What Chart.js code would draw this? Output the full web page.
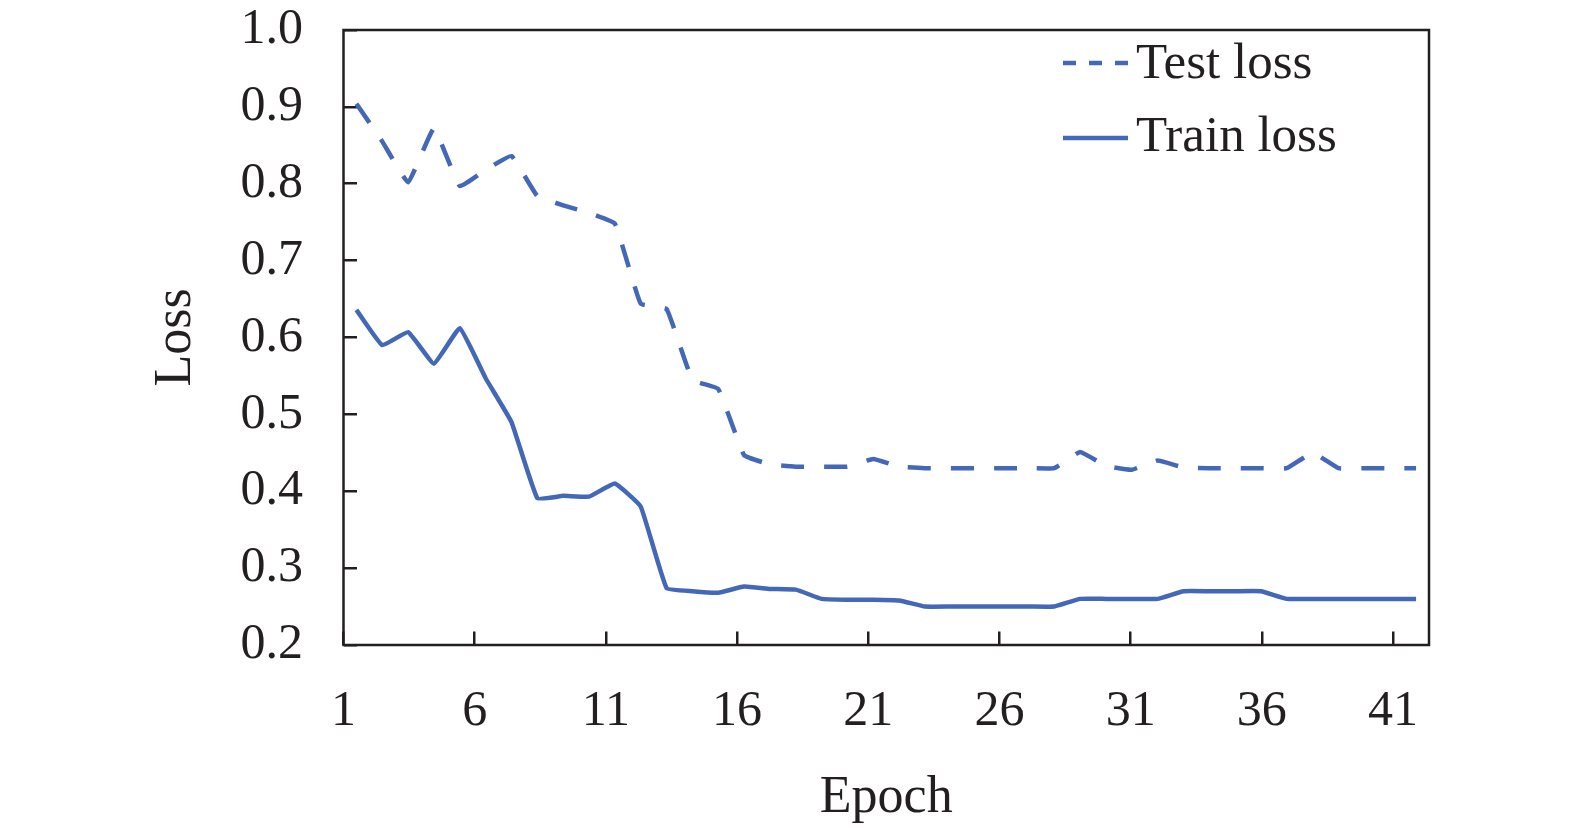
<!DOCTYPE html>
<html>
<head>
<meta charset="utf-8">
<title>Loss</title>
<script src="https://cdn.jsdelivr.net/npm/chart.js@4.4.1/dist/chart.umd.min.js"></script>
<style>
    html, body { margin: 0; padding: 0; background: #fff; }
    #wrap { width: 1575px; height: 828px; }
</style>
</head>
<body>
<div id="wrap"><canvas id="chart" width="1575" height="828"></canvas></div>
<script>
// Data
const epochs = [1, 2, 3, 4, 5, 6, 7, 8, 9, 10, 11, 12, 13, 14, 15, 16, 17, 18, 19, 20, 21,
                22, 23, 24, 25, 26, 27, 28, 29, 30, 31, 32, 33, 34, 35, 36, 37, 38, 39, 40, 41, 42];

const testLoss = [0.904, 0.855, 0.802, 0.872, 0.797, 0.818, 0.836, 0.784, 0.772, 0.762, 0.748,
                  0.644, 0.637, 0.545, 0.533, 0.447, 0.435, 0.432, 0.432, 0.432, 0.442,
                  0.432, 0.430, 0.430, 0.430, 0.430, 0.430, 0.430, 0.451, 0.433, 0.428,
                  0.440, 0.431, 0.430, 0.430, 0.430, 0.430, 0.450, 0.430, 0.430, 0.430, 0.430];

const trainLoss = [0.636, 0.590, 0.607, 0.566, 0.612, 0.547, 0.490, 0.391, 0.394, 0.393, 0.410,
                   0.380, 0.274, 0.270, 0.268, 0.276, 0.273, 0.272, 0.260, 0.259, 0.259,
                   0.258, 0.250, 0.250, 0.250, 0.250, 0.250, 0.250, 0.260, 0.260, 0.260,
                   0.260, 0.270, 0.270, 0.270, 0.270, 0.260, 0.260, 0.260, 0.260, 0.260, 0.260];

const epochTicks = [1, 6, 11, 16, 21, 26, 31, 36, 41];
const lossTicks = [0.2, 0.3, 0.4, 0.5, 0.6, 0.7, 0.8, 0.9, 1.0];

const BLUE = '#4468b8';
const INK = '#231f20';
const FONT = '"Liberation Serif", "Times New Roman", serif';

// box round the plot area (top and right edges included)
const frame = {
    id: 'frame',
    afterDatasetsDraw(chart) {
        const a = chart.chartArea;
        const ctx = chart.ctx;
        ctx.save();
        ctx.strokeStyle = INK;
        ctx.lineWidth = 2.5;
        ctx.strokeRect(a.left, a.top, a.right - a.left, a.bottom - a.top);
        ctx.restore();
    }
};

// legend sitting inside the plot, top right
const innerLegend = {
    id: 'innerLegend',
    afterDraw(chart) {
        const ctx = chart.ctx;
        const rows = [
            { ds: chart.data.datasets[0], y: 63, base: 78, dash: [13, 13] },
            { ds: chart.data.datasets[1], y: 138, base: 151, dash: [] }
        ];
        ctx.save();
        rows.forEach(r => {
            ctx.strokeStyle = r.ds.borderColor;
            ctx.lineWidth = r.ds.borderWidth;
            ctx.setLineDash(r.dash);
            ctx.beginPath();
            ctx.moveTo(1063, r.y);
            ctx.lineTo(1128, r.y);
            ctx.stroke();
            ctx.setLineDash([]);
            ctx.fillStyle = INK;
            ctx.font = '51px ' + FONT;
            ctx.textBaseline = 'alphabetic';
            ctx.textAlign = 'left';
            ctx.fillText(r.ds.label, 1136, r.base);
        });
        ctx.restore();
    }
};

// keep the tick padding from pushing the plot area around
const noOverflow = s => {
    s.paddingTop = 0;
    s.paddingBottom = 0;
    s.paddingLeft = 0;
    s.paddingRight = 0;
};

new Chart(document.getElementById('chart'), {
    type: 'line',
    data: {
        labels: epochs,
        datasets: [{
            label: 'Test loss',
            data: testLoss,
            borderColor: BLUE,
            borderWidth: 4.5,
            borderDash: [23, 20],
            pointRadius: 0,
            tension: 0.1,
            fill: false
        }, {
            label: 'Train loss',
            data: trainLoss,
            borderColor: BLUE,
            borderWidth: 4.5,
            pointRadius: 0,
            tension: 0.1,
            fill: false
        }]
    },
    options: {
        responsive: false,
        animation: false,
        devicePixelRatio: 1,
        layout: { padding: { left: 0, right: 146, top: 30, bottom: 0 } },
        plugins: {
            legend: { display: false },
            tooltip: { enabled: false }
        },
        scales: {
            // category axis the lines are drawn on (one slot per epoch)
            x: {
                type: 'category',
                offset: true,
                display: false
            },
            // visible epoch axis with the printed tick marks
            xTicks: {
                type: 'linear',
                position: 'bottom',
                min: 1,
                max: 42.37,
                afterBuildTicks: s => { s.ticks = epochTicks.map(v => ({ value: v })); },
                afterFit: s => { noOverflow(s); s.height = 183; },
                border: { display: false },
                grid: {
                    drawOnChartArea: false,
                    drawTicks: true,
                    tickLength: -13.5,
                    color: INK,
                    lineWidth: 2.5
                },
                ticks: {
                    color: INK,
                    padding: 50,
                    maxRotation: 0,
                    font: { family: FONT, size: 50 }
                },
                title: {
                    display: true,
                    text: 'Epoch',
                    color: INK,
                    padding: { top: 0, bottom: 4 },
                    font: { family: FONT, size: 52, lineHeight: 1.0 }
                }
            },
            y: {
                type: 'linear',
                min: 0.2,
                max: 1.0,
                afterBuildTicks: s => { s.ticks = lossTicks.map(v => ({ value: v })); },
                afterFit: s => { noOverflow(s); s.width = 343.5; },
                border: { display: false },
                grid: {
                    drawOnChartArea: false,
                    drawTicks: true,
                    tickLength: -13.5,
                    color: INK,
                    lineWidth: 2.5
                },
                ticks: {
                    color: INK,
                    padding: 54,
                    font: { family: FONT, size: 50 },
                    callback: v => Number(v).toFixed(1)
                },
                title: {
                    display: true,
                    text: 'Loss',
                    color: INK,
                    padding: { top: 145, bottom: 0 },
                    font: { family: FONT, size: 52 }
                }
            }
        }
    },
    plugins: [frame, innerLegend]
});
</script>
</body>
</html>
